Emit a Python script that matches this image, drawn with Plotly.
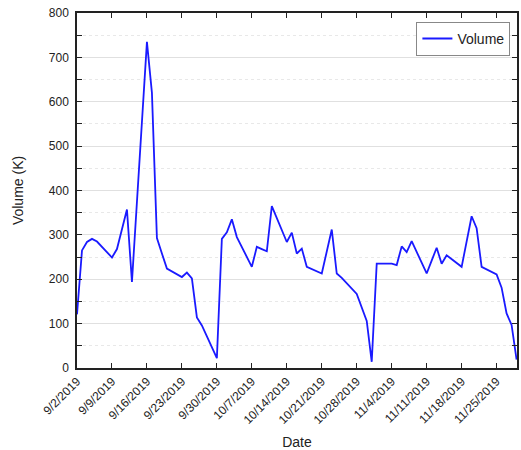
import plotly.graph_objects as go

dates = [
    "2019-09-02", "2019-09-03", "2019-09-04", "2019-09-05", "2019-09-06",
    "2019-09-09", "2019-09-10", "2019-09-11", "2019-09-12", "2019-09-13",
    "2019-09-16", "2019-09-17", "2019-09-18", "2019-09-19", "2019-09-20",
    "2019-09-23", "2019-09-24", "2019-09-25", "2019-09-26", "2019-09-27",
    "2019-09-30", "2019-10-01", "2019-10-02", "2019-10-03", "2019-10-04",
    "2019-10-07", "2019-10-08", "2019-10-09", "2019-10-10", "2019-10-11",
    "2019-10-14", "2019-10-15", "2019-10-16", "2019-10-17", "2019-10-18",
    "2019-10-21", "2019-10-22", "2019-10-23", "2019-10-24", "2019-10-25",
    "2019-10-28", "2019-10-29", "2019-10-30", "2019-10-31", "2019-11-01",
    "2019-11-04", "2019-11-05", "2019-11-06", "2019-11-07", "2019-11-08",
    "2019-11-11", "2019-11-12", "2019-11-13", "2019-11-14", "2019-11-15",
    "2019-11-18", "2019-11-19", "2019-11-20", "2019-11-21", "2019-11-22",
    "2019-11-25", "2019-11-26", "2019-11-27", "2019-11-28", "2019-11-29",
]
volume = [
    121, 265, 284, 291, 285,
    249, 268, 312, 357, 194,
    735, 620, 293, 258, 224,
    205, 215, 202, 114, 96,
    22, 291, 306, 335, 295,
    228, 273, 268, 263, 365,
    284, 305, 258, 269, 228,
    213, 262, 312, 213, 203,
    167, 136, 106, 14, 235,
    235, 232, 274, 261, 286,
    213, 242, 271, 235, 254,
    228, 289, 342, 315, 228,
    211, 181, 123, 97, 19,
]
series_name = "Volume"
x_title = "Date"
y_title = "Volume (K)"

fig = go.Figure()
fig.add_trace(go.Scatter(
    x=dates, y=volume, mode="lines", name=series_name,
    line=dict(color="#1a1aff", width=1.8),
))

font_family = "Liberation Sans, Arial, sans-serif"
fig.update_layout(
    width=521, height=450,
    margin=dict(l=77, r=2, t=13, b=80),
    paper_bgcolor="white", plot_bgcolor="white",
    font=dict(family=font_family, size=12, color="#222"),
    showlegend=True,
    legend=dict(
        x=0.985, y=0.975, xanchor="right", yanchor="top",
        bordercolor="#888", borderwidth=1, bgcolor="white",
        font=dict(size=14, color="#222"),
        itemwidth=30,
    ),
)
fig.update_xaxes(
    type="date",
    range=["2019-09-02", "2019-11-29 02:00"],
    tick0="2019-09-02", dtick=7 * 24 * 3600 * 1000,
    tickformat="%-m/%-d/%Y", tickangle=-45,
    ticks="inside", ticklen=5, tickwidth=1.2, tickcolor="#222",
    showline=True, linecolor="#222", linewidth=1.5, mirror="allticks",
    showgrid=False, zeroline=False,
    title=dict(text=x_title, font=dict(size=14), standoff=11),
    tickfont=dict(size=12),
)
fig.update_yaxes(
    range=[0, 800], dtick=100,
    ticks="inside", ticklen=5, tickwidth=1.2, tickcolor="#222",
    showline=True, linecolor="#222", linewidth=1.5, mirror="allticks",
    showgrid=True, gridcolor="#e0e0e0", gridwidth=1,
    zeroline=False,
    minor=dict(dtick=50, ticks="inside", ticklen=5, tickcolor="#222",
               showgrid=True, gridcolor="#e8e8e8", griddash="dot", gridwidth=1),
    ticklabelstandoff=4,
    title=dict(text=y_title, font=dict(size=14), standoff=22),
    tickfont=dict(size=12),
)

fig.write_html(
    "out.html",
    config={"displayModeBar": False},
    post_script="document.body.style.margin='0';document.body.style.overflow='hidden';",
)
